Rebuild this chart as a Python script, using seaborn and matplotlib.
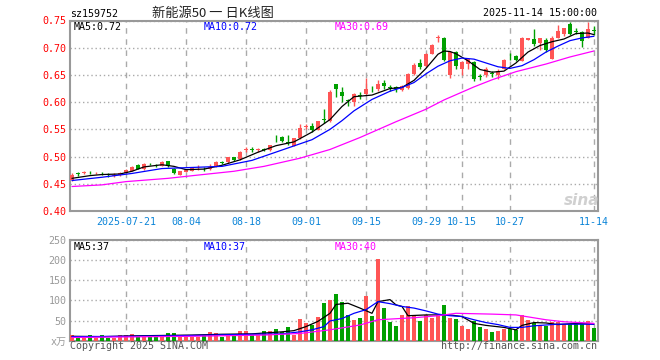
import matplotlib
matplotlib.use("Agg")
import matplotlib.pyplot as plt
import seaborn as sns
import pandas as pd

# ================================ Data ================================
opens = [0.457, 0.469, 0.470, 0.472, 0.470, 0.470, 0.468, 0.465, 0.466, 0.470,
         0.474, 0.485, 0.477, 0.487, 0.485, 0.483, 0.491, 0.478, 0.467, 0.472,
         0.474, 0.477, 0.478, 0.477, 0.482, 0.490, 0.490, 0.499, 0.495, 0.512,
         0.514, 0.512, 0.514, 0.512, 0.538, 0.536, 0.526, 0.520, 0.534, 0.555,
         0.557, 0.549, 0.569, 0.565, 0.633, 0.618, 0.604, 0.600, 0.614, 0.615,
         0.623, 0.624, 0.636, 0.628, 0.627, 0.623, 0.626, 0.652, 0.672, 0.666,
         0.689, 0.718, 0.718, 0.649, 0.692, 0.661, 0.670, 0.673, 0.648, 0.649,
         0.653, 0.649, 0.661, 0.685, 0.684, 0.676, 0.715, 0.716, 0.708, 0.714,
         0.680, 0.718, 0.726, 0.744, 0.730, 0.728, 0.718, 0.733]
highs = [0.470, 0.472, 0.473, 0.474, 0.472, 0.472, 0.469, 0.469, 0.471, 0.477,
         0.482, 0.487, 0.488, 0.489, 0.487, 0.491, 0.492, 0.479, 0.474, 0.478,
         0.480, 0.484, 0.480, 0.487, 0.491, 0.491, 0.500, 0.500, 0.510, 0.517,
         0.517, 0.516, 0.516, 0.522, 0.540, 0.537, 0.539, 0.535, 0.559, 0.559,
         0.561, 0.566, 0.588, 0.622, 0.634, 0.627, 0.606, 0.616, 0.618, 0.645,
         0.630, 0.640, 0.640, 0.632, 0.630, 0.631, 0.653, 0.672, 0.679, 0.691,
         0.707, 0.723, 0.720, 0.694, 0.694, 0.676, 0.682, 0.676, 0.652, 0.664,
         0.658, 0.660, 0.680, 0.690, 0.686, 0.719, 0.718, 0.735, 0.718, 0.718,
         0.722, 0.741, 0.737, 0.747, 0.737, 0.730, 0.747, 0.740]
lows = [0.455, 0.465, 0.468, 0.468, 0.468, 0.466, 0.463, 0.463, 0.465, 0.469,
        0.473, 0.477, 0.476, 0.484, 0.481, 0.482, 0.481, 0.468, 0.466, 0.471,
        0.473, 0.476, 0.473, 0.476, 0.481, 0.486, 0.489, 0.492, 0.494, 0.509,
        0.509, 0.508, 0.510, 0.511, 0.527, 0.527, 0.522, 0.519, 0.533, 0.551,
        0.545, 0.548, 0.562, 0.563, 0.610, 0.601, 0.593, 0.592, 0.606, 0.614,
        0.618, 0.620, 0.625, 0.620, 0.618, 0.621, 0.625, 0.650, 0.660, 0.665,
        0.688, 0.710, 0.676, 0.645, 0.660, 0.649, 0.661, 0.639, 0.641, 0.646,
        0.647, 0.643, 0.660, 0.677, 0.676, 0.675, 0.714, 0.704, 0.695, 0.692,
        0.680, 0.717, 0.722, 0.724, 0.725, 0.702, 0.717, 0.724]
closes = [0.467, 0.468, 0.471, 0.471, 0.4705, 0.469, 0.466, 0.467, 0.470, 0.476,
          0.481, 0.478, 0.487, 0.486, 0.484, 0.490, 0.482, 0.470, 0.473, 0.476,
          0.479, 0.478, 0.477, 0.481, 0.490, 0.489, 0.499, 0.494, 0.509, 0.513,
          0.512, 0.513, 0.512, 0.521, 0.537, 0.529, 0.525, 0.534, 0.553, 0.557,
          0.549, 0.565, 0.567, 0.618, 0.625, 0.611, 0.602, 0.615, 0.612, 0.624,
          0.622, 0.634, 0.630, 0.626, 0.625, 0.629, 0.652, 0.668, 0.664, 0.689,
          0.705, 0.720, 0.678, 0.692, 0.666, 0.673, 0.679, 0.642, 0.647, 0.661,
          0.652, 0.658, 0.678, 0.684, 0.677, 0.718, 0.717, 0.707, 0.718, 0.696,
          0.718, 0.731, 0.737, 0.725, 0.729, 0.713, 0.735, 0.730]
volumes = [15, 7, 7, 13, 7, 13, 7, 7, 13, 15,
           17, 10, 10, 10, 10, 10, 20, 20, 13, 8,
           8, 8, 15, 22, 18, 10, 15, 15, 25, 25,
           13, 13, 25, 23, 28, 21, 33, 15, 55, 45,
           38, 60, 93, 100, 117, 95, 64, 52, 57, 112,
           62, 204, 82, 47, 37, 64, 87, 62, 49, 64,
           57, 64, 89, 57, 54, 37, 29, 49, 34, 29,
           22, 24, 29, 29, 27, 64, 52, 44, 39, 37,
           47, 47, 42, 42, 42, 42, 49, 32]

# moving averages (sampled along the lines)
ma5_x = [0, 3, 5, 8, 10, 12, 15, 17, 19, 22, 25, 28, 31, 34, 37, 40, 43, 45, 47, 50,
         53, 55, 57, 59, 61, 62, 63, 64, 66, 68, 70, 72, 74, 76, 78, 80, 82, 84, 86, 87]
ma5_y = [0.460, 0.465, 0.467, 0.468, 0.473, 0.481, 0.485, 0.482, 0.476, 0.477,
         0.484, 0.494, 0.508, 0.520, 0.527, 0.545, 0.568, 0.592, 0.610, 0.613,
         0.625, 0.627, 0.640, 0.662, 0.688, 0.694, 0.693, 0.689, 0.676, 0.660,
         0.655, 0.657, 0.672, 0.692, 0.704, 0.711, 0.716, 0.726, 0.727, 0.724]
ma10_x = [0, 5, 10, 15, 20, 25, 30, 35, 40, 43, 45, 47, 50, 53, 55, 57, 59, 61, 63,
          65, 67, 69, 71, 73, 75, 77, 79, 81, 83, 85, 87]
ma10_y = [0.456, 0.462, 0.469, 0.478, 0.480, 0.482, 0.493, 0.512, 0.531, 0.550,
          0.566, 0.584, 0.605, 0.620, 0.627, 0.636, 0.652, 0.666, 0.676, 0.681,
          0.679, 0.672, 0.665, 0.662, 0.667, 0.678, 0.692, 0.703, 0.713, 0.718, 0.721]
ma30_x = [0, 5, 9, 16, 21, 27, 32, 38, 43, 48, 54, 59, 62, 67, 70, 74, 79, 83, 87]
ma30_y = [0.445, 0.448, 0.454, 0.460, 0.466, 0.473, 0.482, 0.497, 0.513, 0.535,
          0.564, 0.587, 0.604, 0.628, 0.641, 0.656, 0.670, 0.683, 0.694]

vma5_x = [0, 5, 10, 15, 20, 25, 30, 35, 37, 39, 41, 43, 44, 46, 48, 50, 51, 53, 54,
          55, 56, 59, 61, 63, 65, 67, 69, 72, 74, 75, 77, 79, 81, 83, 85, 87]
vma5_y = [11, 10, 12, 13, 14, 16, 17, 22, 25, 35, 48, 68, 90, 93, 81, 68, 97, 102, 89,
          85, 62, 64, 64, 64, 60, 43, 38, 33, 27, 38, 45, 44, 40, 42, 43, 41]
vma10_x = [0, 10, 20, 30, 35, 38, 40, 42, 43, 45, 47, 49, 51, 53, 55, 57, 59, 61, 63,
           65, 67, 69, 71, 73, 75, 77, 79, 81, 83, 85, 87]
vma10_y = [10, 11, 13, 16, 17, 22, 27, 35, 49, 55, 68, 77, 97, 92, 85, 81, 74, 66, 62,
           60, 52, 45, 40, 33, 33, 37, 39, 41, 41, 41, 41]
vma30_x = [0, 20, 32, 38, 43, 48, 51, 57, 61, 64, 70, 74, 79, 82, 87]
vma30_y = [8, 11, 14, 18, 27, 39, 52, 57, 62, 68, 66, 64, 52, 47, 43]

tick_pos = [9, 19, 29, 39, 49, 59, 65, 73, 87]
tick_labels = ["2025-07-21", "08-04", "08-18", "09-01", "09-15", "09-29", "10-15", "10-27", "11-14"]
price_ticks = [0.40, 0.45, 0.50, 0.55, 0.60, 0.65, 0.70, 0.75]
vol_ticks = [0, 50, 100, 150, 200, 250]
vol_tick_labels = ["x万", "50", "100", "150", "200", "250"]

# ================================ Styling ================================
RED = "#ff5555"
GREEN = "#00a000"
GRID = "#aaaaaa"
SPINE = "#999999"

sns.set_style("white")
plt.rcParams["font.family"] = ["DejaVu Sans Mono", "Noto Sans CJK SC"]
plt.rcParams["font.size"] = 7.2

W, H = 660, 360
fig = plt.figure(figsize=(W / 100, H / 100), dpi=100)
ax = fig.add_axes([70 / W, 1 - 211 / H, 528 / W, 190.5 / H])
axv = fig.add_axes([70 / W, 1 - 340.7 / H, 528 / W, 100.7 / H])

df = pd.DataFrame({"o": opens, "h": highs, "l": lows, "c": closes, "v": volumes})
df["i"] = range(len(df))
colors = [RED if c >= o else GREEN for o, c in zip(df.o, df.c)]

# ---- candles ----
ax.vlines(df.i, df.l, df.h, colors=colors, lw=1, zorder=3)
body_lo = df[["o", "c"]].min(axis=1)
body_h = (df.c - df.o).abs().clip(lower=0.0007)
ax.bar(df.i, body_h, bottom=body_lo, width=0.75, color=colors, lw=0, zorder=4)

sns.lineplot(x=ma5_x, y=ma5_y, color="black", lw=0.9, ax=ax, zorder=5)
sns.lineplot(x=ma10_x, y=ma10_y, color="#0000ff", lw=0.9, ax=ax, zorder=5)
sns.lineplot(x=ma30_x, y=ma30_y, color="#ff00ff", lw=0.9, ax=ax, zorder=5)

# ---- volume ----
axv.bar(df.i, df.v, width=0.78, color=colors, lw=0, zorder=3)
sns.lineplot(x=vma5_x, y=vma5_y, color="black", lw=0.9, ax=axv, zorder=5)
sns.lineplot(x=vma10_x, y=vma10_y, color="#0000ff", lw=0.9, ax=axv, zorder=5)
sns.lineplot(x=vma30_x, y=vma30_y, color="#ff00ff", lw=0.9, ax=axv, zorder=5)

# ---- axes cosmetics ----
for a in (ax, axv):
    a.set_xlim(-0.33, 87.67)
    a.set_xticks(tick_pos)
    a.grid(axis="x", color=GRID, ls=(0, (4, 4)), lw=1)
    a.grid(axis="y", color=GRID, ls=(0, (1, 2)), lw=1)
    a.set_axisbelow(True)
    a.tick_params(length=0)
    a.set_xlabel("")
    a.set_ylabel("")
    for s in a.spines.values():
        s.set_color(SPINE)
        s.set_linewidth(1.5)

ax.set_ylim(0.40, 0.75)
ax.set_yticks(price_ticks)
ax.set_yticklabels([f"{t:.2f}" for t in price_ticks], color="red")
ax.set_xticklabels(tick_labels, color="#0b84d8")
ax.tick_params(axis="y", pad=2.5)
ax.tick_params(axis="x", pad=4)

axv.set_ylim(0, 250)
axv.set_yticks(vol_ticks)
axv.set_yticklabels(vol_tick_labels, color="#999999")
axv.set_xticklabels([])
axv.tick_params(axis="y", pad=2.5)


def ftext(x, y, s, **kw):
    fig.text(x / W, 1 - y / H, s, va="baseline", **kw)


ftext(70, 17, "sz159752", color="black")
ftext(213, 17, "新能源50 一 日K线图", ha="center", fontsize=9.5,
      family=["Noto Sans CJK SC", "DejaVu Sans"], color="#222222")
ftext(597, 16, "2025-11-14 15:00:00", ha="right", color="black")

ftext(74, 30, "MA5:0.72", color="black")
ftext(204, 30, "MA10:0.72", color="#0000ff")
ftext(335, 30, "MA30:0.69", color="#ff00ff")

ftext(74, 250, "MA5:37", color="black")
ftext(204, 250, "MA10:37", color="#0000ff")
ftext(335, 250, "MA30:40", color="#ff00ff")

ftext(70, 349, "Copyright 2025 SINA.COM", color="#555555")
ftext(597, 349, "http://finance.sina.com.cn", ha="right", color="#555555")

# faint watermark
ftext(582, 205, "sina", ha="center", fontsize=11, fontweight="bold", style="italic",
      family="DejaVu Sans", color="#d0d0d0")

fig.savefig("out.png", dpi=100)
